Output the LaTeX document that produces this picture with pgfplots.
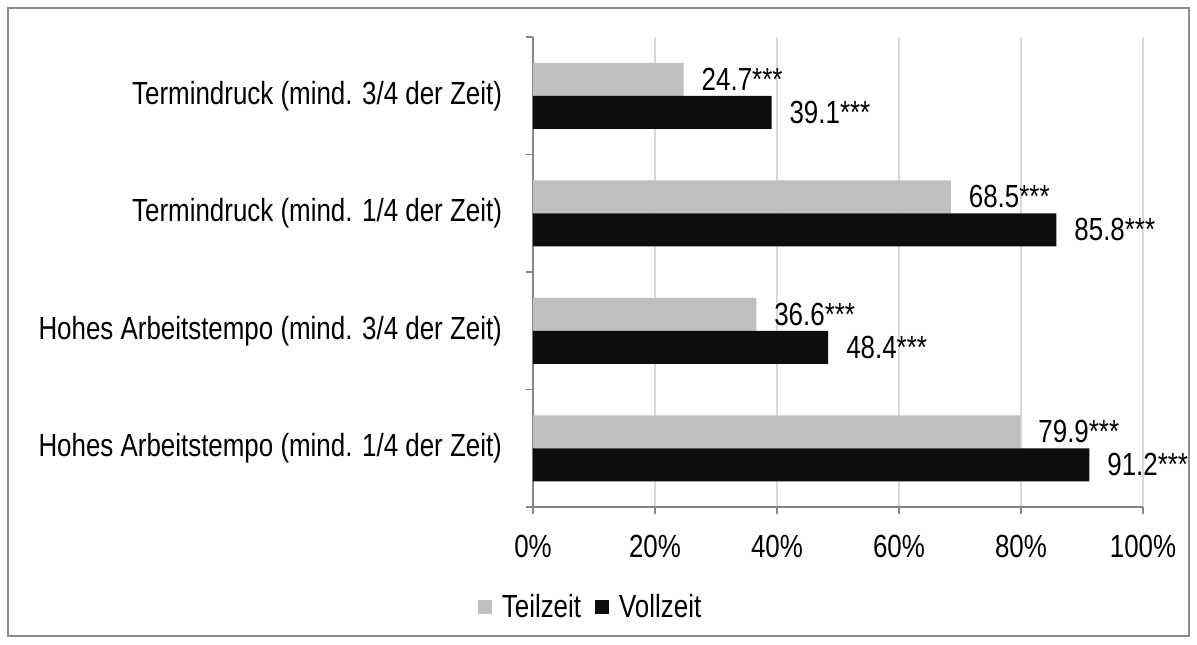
\documentclass[border=0pt]{standalone}
\usepackage{pgfplots}
\pgfplotsset{compat=1.18}
\usepackage{fontspec}
\setmainfont{Liberation Sans}[FakeStretch=0.81]
\definecolor{teil}{HTML}{BFBFBF}
\definecolor{voll}{HTML}{0D0D0D}
\definecolor{gridc}{HTML}{D9D9D9}
\definecolor{axc}{HTML}{868686}
\definecolor{framec}{HTML}{8C8C8C}
\begin{document}
\begin{tikzpicture}[font=\fontsize{16}{19}\selectfont]
% white page and outer frame (1px = 0.5pt)
\fill[white] (-266.5pt,-68.5pt) rectangle (332pt,253.5pt);
\draw[framec, line width=1pt] (-262.5pt,-64.5pt) rectangle (328pt,249.5pt);
\begin{axis}[
  at={(0,0)}, anchor=south west,
  scale only axis,
  width=305pt, height=235pt,
  xbar, bar width=16.5pt,
  xmin=0, xmax=100, ymin=-0.5, ymax=3.5,
  axis x line*=bottom, axis y line*=left,
  axis line style={axc, line width=0.6pt},
  xtick={0,20,40,60,80,100},
  xticklabel={\pgfmathprintnumber{\tick}\%},
  /pgf/number format/assume math mode=true,
  xmajorgrids, major grid style={gridc, line width=0.6pt},
  ytick={-0.5,0.5,1.5,2.5,3.5},
  yticklabels={},
  extra y ticks={0,1,2,3},
  extra y tick labels={Hohes Arbeitstempo (mind. 1/4 der Zeit),
               Hohes Arbeitstempo (mind. 3/4 der Zeit),
               Termindruck (mind. 1/4 der Zeit),
               Termindruck (mind. 3/4 der Zeit)},
  extra y tick style={major tick length=0pt,
    yticklabel style={xshift=-12pt}},
  tick align=outside,
  major tick length=3.5pt,
  tick style={axc, line width=0.6pt},
  xticklabel style={yshift=-7pt},
  nodes near coords={\pgfmathprintnumber[fixed,fixed zerofill,precision=1]{\pgfplotspointmeta}***},
  every node near coord/.append style={anchor=west, xshift=5.5pt, text=black},
  legend style={at={(axis description cs:0.096,-0.213)}, anchor=center,
    draw=none, legend columns=2, column sep=3pt,
    /tikz/every even column/.append style={column sep=5pt}},
  legend image code/.code={\fill[#1] (0pt,-3.5pt) rectangle (7pt,3.5pt);},
]
\addplot[fill=teil, draw=none, bar shift=8.25pt] coordinates {
  (79.9,0) (36.6,1) (68.5,2) (24.7,3)
};
\addlegendentry{Teilzeit}
\addplot[fill=voll, draw=none, bar shift=-8.25pt] coordinates {
  (91.2,0) (48.4,1) (85.8,2) (39.1,3)
};
\addlegendentry{Vollzeit}
\end{axis}
\end{tikzpicture}
\end{document}
